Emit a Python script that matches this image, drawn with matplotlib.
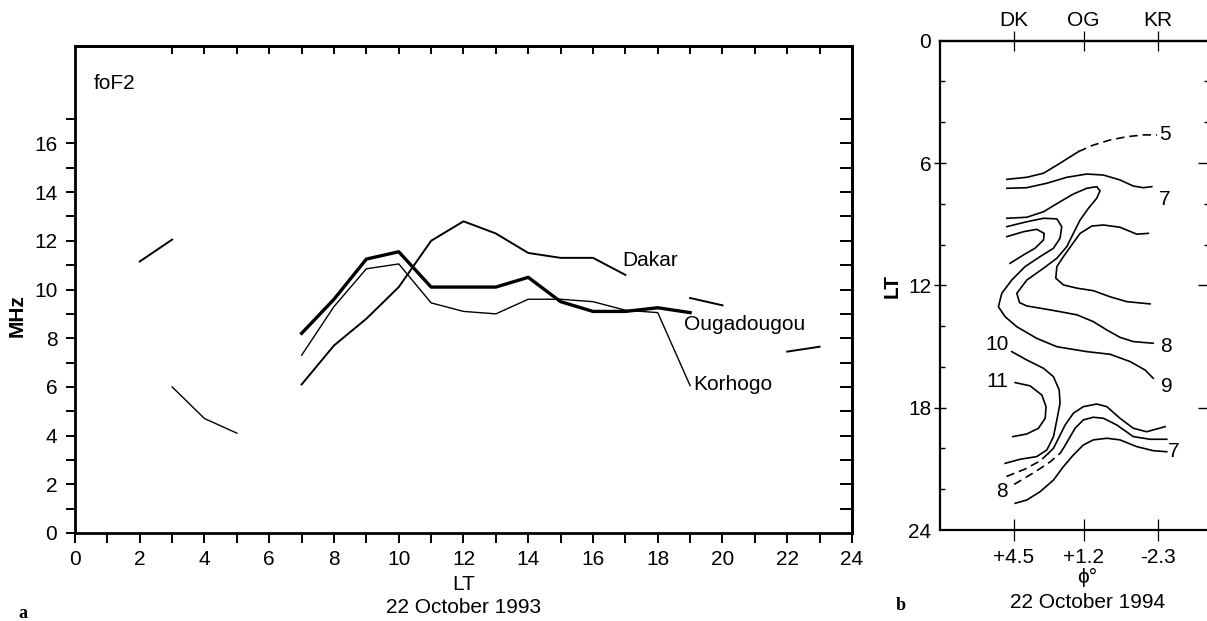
import numpy as np
import matplotlib
matplotlib.use('Agg')
import matplotlib.pyplot as plt

plt.rcParams['font.family'] = ['Liberation Sans', 'DejaVu Sans']
plt.rcParams['font.size'] = 15

nan = np.nan

# (a) hourly foF2 (MHz), 22 October 1993
hours = np.arange(24)
dakar = [nan, nan, 11.15, 12.05, nan, nan, nan, 6.1, 7.7, 8.8, 10.1, 12.0,
         12.8, 12.3, 11.5, 11.3, 11.3, 10.6, nan, 9.65, 9.35, nan, 7.45, 7.65]
ougadougou = [nan] * 7 + [8.2, 9.6, 11.25, 11.55, 10.1, 10.1, 10.1, 10.5,
                          9.5, 9.1, 9.1, 9.25, 9.05] + [nan] * 4
korhogo = [nan] * 3 + [6.0, 4.7, 4.1, nan, 7.3, 9.3, 10.85, 11.05, 9.45, 9.1,
                       9.0, 9.6, 9.6, 9.5, 9.15, 9.05, 6.05] + [nan] * 4

# (b) foF2 isolines, dip latitude (deg) vs LT, 22 October 1994
stations = ['DK', 'OG', 'KR']
station_lat = [4.5, 1.2, -2.3]
lat_labels = ['+4.5', '+1.2', '-2.3']

c5_lat = [4.82, 3.88, 3.09, 2.31, 1.44]
c5_lt = [6.80, 6.70, 6.50, 6.01, 5.44]
c5_dash_lat = [1.44, 0.74, -0.05, -0.84, -1.62, -2.26]
c5_dash_lt = [5.44, 5.12, 4.87, 4.71, 4.62, 4.62]

c7_lat = [4.82, 3.88, 2.93, 1.99, 1.05, 0.26, -0.52, -1.15, -1.62, -2.02]
c7_lt = [7.24, 7.21, 6.99, 6.70, 6.54, 6.59, 6.83, 7.13, 7.21, 7.16]

c8_lat = [4.82, 3.88, 3.09, 2.31, 1.68, 1.05, 0.58, 0.42, 0.58, 0.97, 1.36,
          1.68, 1.99, 2.46, 3.09, 3.88, 4.35, 4.22, 3.88, 3.25, 2.31, 1.50,
          0.74, 0.10, -0.52, -1.15, -2.09]
c8_lt = [8.71, 8.66, 8.39, 7.90, 7.52, 7.24, 7.16, 7.36, 7.73, 8.22, 8.79,
         9.45, 10.10, 10.67, 11.16, 11.74, 12.39, 12.85, 13.01, 13.12, 13.29,
         13.45, 13.78, 14.19, 14.55, 14.76, 14.84]

loop_lat = [4.82, 4.04, 3.41, 3.06, 3.09, 3.49, 4.04, 4.67]
loop_lt = [9.61, 9.37, 9.25, 9.45, 9.77, 10.18, 10.51, 10.92]

c9_lat = [4.82, 3.88, 3.09, 2.46, 2.23, 2.31, 2.62, 3.25, 3.96, 4.59, 5.06,
          5.22, 4.90, 4.35, 3.41, 2.46, 1.05, -0.05, -1.00, -1.70, -2.09]
c9_lt = [9.12, 8.88, 8.71, 8.74, 9.12, 9.69, 10.18, 10.59, 11.08, 11.74,
         12.39, 13.05, 13.54, 14.03, 14.60, 15.01, 15.25, 15.38, 15.74, 16.15,
         16.56]

inner_lat = [-1.86, -1.31, -0.52, 0.26, 0.81, 1.36, 1.76, 2.15, 2.46, 2.51,
             2.15, 1.50, 0.74, -0.05, -0.84, -1.94]
inner_lt = [9.45, 9.49, 9.15, 9.04, 9.09, 9.45, 10.02, 10.59, 11.08, 11.65,
            11.98, 12.14, 12.26, 12.56, 12.80, 12.91]

c10_lat = [4.59, 3.88, 3.09, 2.62, 2.35, 2.31, 2.46, 2.62, 2.93, 3.41, 4.19, 4.90]
c10_lt = [15.25, 15.66, 16.07, 16.48, 17.13, 17.78, 18.60, 19.42, 20.07,
          20.40, 20.53, 20.73]

c11_lat = [4.43, 3.72, 3.17, 2.97, 3.01, 3.33, 3.88, 4.54]
c11_lt = [16.77, 16.93, 17.38, 17.95, 18.52, 19.01, 19.29, 19.42]

e9_lat = [-2.65, -1.78, -1.15, -0.52, 0.10, 0.58, 1.21, 1.68, 2.07, 2.38,
          2.62, 2.86]
e9_lt = [18.93, 19.18, 19.01, 18.52, 17.95, 17.82, 17.95, 18.27, 18.85,
         19.50, 19.99, 20.24]
e9_dash_lat = [2.86, 3.25, 3.96, 4.90]
e9_dash_lt = [20.24, 20.61, 21.01, 21.40]

e8_lat = [-2.73, -1.94, -1.15, -0.37, 0.26, 0.74, 1.21, 1.60, 1.92, 2.15]
e8_lt = [19.55, 19.55, 19.42, 18.85, 18.52, 18.47, 18.60, 19.01, 19.58, 19.99]
e8_dash_lat = [2.15, 2.31, 2.78, 3.49, 4.52]
e8_dash_lt = [19.99, 20.24, 20.66, 21.15, 21.79]

e7_lat = [-2.73, -2.09, -1.31, -0.52, 0.10, 0.74, 1.21, 1.68, 2.15, 2.62,
          3.25, 3.88, 4.43]
e7_lt = [20.16, 20.11, 19.91, 19.58, 19.50, 19.58, 19.83, 20.32, 20.89,
         21.55, 22.12, 22.53, 22.69]

iso_labels = ['5', '7', '8', '9', '10', '11', '8', '7']
iso_label_lat = [-2.65, -2.65, -2.70, -2.72, 5.29, 5.29, 5.06, -3.07]
iso_label_lt = [4.62, 7.81, 15.01, 16.97, 14.92, 16.72, 22.12, 20.16]

W, H = 1207, 621
fig = plt.figure(figsize=(W / 100, H / 100), dpi=100)

# ---- panel a ----
ax = fig.add_axes([75 / W, 88 / H, 777 / W, 487 / H])
ax.plot(hours, dakar, color='black', lw=1.4)
ax.plot(hours, ougadougou, color='black', lw=2.4)
ax.plot(hours, korhogo, color='black', lw=1.0)
ax.set_xlim(0, 24)
ax.set_ylim(0, 20)
ax.set_xticks(range(25))
ax.set_xticklabels([str(h) if h % 2 == 0 else '' for h in range(25)])
ax.set_yticks(range(18))
ax.set_yticklabels([str(v) if v % 2 == 0 else '' for v in range(18)])
ax.tick_params(axis='x', direction='out', length=7.2, width=1.4, pad=5)
ax.tick_params(axis='y', direction='out', length=6.2, width=1.4, pad=6.5)
for s in ax.spines.values():
    s.set_linewidth(2.0)

top = ax.secondary_xaxis('top')
top.set_xticks(range(3, 24))
top.set_xticklabels([])
top.tick_params(direction='in', length=5.8, width=1.4)
top.spines['top'].set_linewidth(2.0)

right = ax.secondary_yaxis('right')
right.set_yticks(range(1, 18))
right.set_yticklabels([])
right.tick_params(direction='in', length=8.6, width=1.4)
right.spines['right'].set_linewidth(2.0)

ax.text(0.59, 18.44, 'foF2', ha='left', va='center')
ax.text(16.89, 11.18, 'Dakar', ha='left', va='center')
ax.text(18.80, 8.56, 'Ougadougou', ha='left', va='center')
ax.text(19.10, 6.09, 'Korhogo', ha='left', va='center')

xt = ax.get_xaxis_transform()
ax.text(12, -0.106, 'LT', transform=xt, ha='center', va='center')
ax.text(12, -0.153, '22 October 1993', transform=xt, ha='center', va='center')
fig.text(17.5 / W, 1 - 316 / H, 'MHz', rotation=90, ha='center', va='center',
         fontweight='bold')

# ---- panel b ----
axr = fig.add_axes([939.5 / W, 91 / H, 270.1 / W, 489.3 / H])
solid = [(c5_lat, c5_lt), (c7_lat, c7_lt), (c8_lat, c8_lt), (loop_lat, loop_lt),
         (c9_lat, c9_lt), (inner_lat, inner_lt), (c10_lat, c10_lt),
         (c11_lat, c11_lt), (e9_lat, e9_lt), (e8_lat, e8_lt), (e7_lat, e7_lt)]
dashed = [(c5_dash_lat, c5_dash_lt), (e9_dash_lat, e9_dash_lt),
          (e8_dash_lat, e8_dash_lt)]
for x, y in solid:
    axr.plot(x, y, color='black', lw=1.2, solid_joinstyle='round')
for x, y in dashed:
    axr.plot(x, y, color='black', lw=1.2, linestyle=(0, (5, 3)))
for txt, x, y in zip(iso_labels, iso_label_lat, iso_label_lt):
    axr.text(x, y, txt, ha='center', va='center')

axr.set_xlim(8.0, -4.75)
axr.set_ylim(24, 0)
axr.set_xticks(station_lat)
axr.set_xticklabels(lat_labels)
axr.tick_params(axis='x', direction='inout', length=16, width=0.9, pad=5)
axr.set_yticks([0, 6, 12, 18, 24])
axr.set_yticks([2, 4, 8, 10, 14, 16, 20, 22], minor=True)
axr.tick_params(axis='y', which='major', direction='inout', length=8,
                width=1.0, pad=2)
axr.tick_params(axis='y', which='minor', direction='in', length=3.6, width=1.0)
for i in (0, 4):
    axr.yaxis.get_major_ticks()[i].tick1line.set_visible(False)
for s in axr.spines.values():
    s.set_linewidth(1.6)

rtop = axr.secondary_xaxis('top')
rtop.set_xticks(station_lat)
rtop.set_xticklabels(stations)
rtop.tick_params(direction='inout', length=13.7, width=0.9, pad=0.5)
rtop.spines['top'].set_linewidth(1.6)

rright = axr.secondary_yaxis('right')
rright.set_yticks([6, 12, 18])
rright.set_yticks([2, 4, 8, 10], minor=True)
rright.set_yticklabels([])
rright.tick_params(which='major', direction='in', length=8.6, width=1.0)
rright.tick_params(which='minor', direction='in', length=4.3, width=1.0)

xr = axr.get_xaxis_transform()
axr.text(1.02, -0.098, '\u03d5\u00b0', transform=xr, ha='center', va='center')
axr.text(0.99, -0.149, '22 October 1994', transform=xr, ha='center',
         va='center')
fig.text(892 / W, 1 - 286 / H, 'LT', rotation=90, ha='center', va='center',
         fontweight='bold')

fig.text(23 / W, 8 / H, 'a', family='Liberation Serif', fontweight='bold',
         fontsize=13, ha='center', va='center')
fig.text(901 / W, 15 / H, 'b', family='Liberation Serif', fontweight='bold',
         fontsize=13, ha='center', va='center')

fig.savefig('out.png', dpi=100)
